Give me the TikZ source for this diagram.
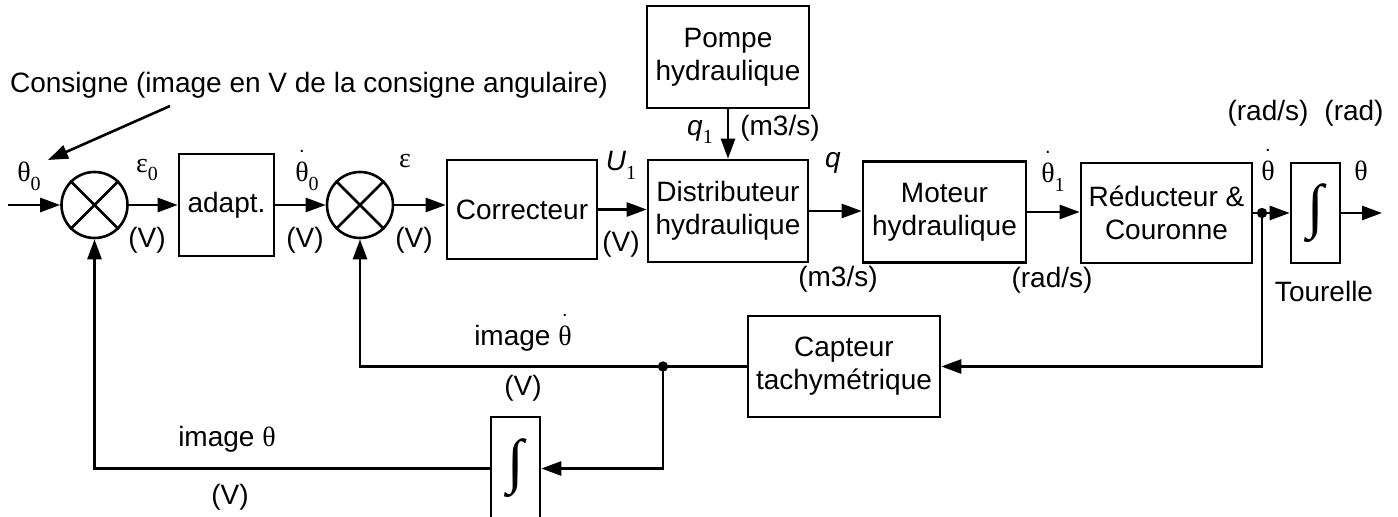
\documentclass[tikz,border=0pt]{standalone}
\usepackage{fontspec}
\setmainfont{Liberation Sans}
\newfontfamily\grk{Liberation Serif}
\usetikzlibrary{arrows.meta}
\newcommand\lowsub[1]{\raisebox{-0.6ex}{\grk\fontsize{10}{10}\selectfont #1}}
\newcommand\dotover[1]{\shortstack{\fontsize{10}{10}\selectfont .\\[2pt]#1}}
\newcommand\integ{{\grk\fontsize{30}{30}\selectfont ∫}}
\tikzset{
  box/.style={draw, line width=1.3pt, align=center, inner sep=0pt},
  sum/.style={draw, circle, minimum size=33pt, inner sep=0pt, line width=1.3pt},
  lbl/.style={inner sep=0pt, align=center},
  conn/.style={line width=1.3pt, -{Triangle[length=10pt,width=7pt]}},
  plain/.style={line width=1.3pt},
}
\begin{document}
\begin{tikzpicture}[x=0.5pt, y=-0.5pt, font=\fontsize{14}{16.5}\selectfont]
\useasboundingbox (0,0) rectangle (1398,517);
\clip (0,0) rectangle (1398,517);
% blocks
\node[sum] (s1) at (94.5,205) {};
\node[sum] (s2) at (360,205) {};
\node[box, minimum width=47.5pt, minimum height=51pt] (adapt) at (226.5,205) {adapt.};
\node[box, minimum width=75pt, minimum height=49.5pt] (corr) at (522,209.5) {Correcteur};
\node[box, minimum width=80pt, minimum height=51pt] (dist) at (728,211) {Distributeur\\hydraulique};
\node[box, minimum width=81pt, minimum height=51pt] (pompe) at (728,57) {Pompe\\hydraulique};
\node[box, minimum width=81.5pt, minimum height=50.5pt] (mot) at (944.5,212) {Moteur\\hydraulique};
\node[box, minimum width=85.5pt, minimum height=50pt] (red) at (1166.5,213) {Réducteur \&\\Couronne};
\node[box, minimum width=24.5pt, minimum height=50pt] (int1) at (1315.5,213) {\integ};
\node[box, minimum width=96pt, minimum height=50.5pt] (cap) at (844,366.5) {Capteur\\tachymétrique};
\node[box, minimum width=24.5pt, minimum height=51.5pt] (int2) at (515.5,468.5) {\integ};
% crosses in summing junctions
\foreach \s in {s1,s2}{
  \draw[plain] (\s.north east) -- (\s.south west);
  \draw[plain] (\s.north west) -- (\s.south east);
}
% coordinates
\coordinate (in) at (8,205);
\coordinate (out) at (1382,213);
\coordinate (j1) at (1262,213);
\coordinate (j2) at (663,366.5);
\coordinate (cs1) at (170,106);
\coordinate (cs2) at (48,160);
% connectors
\draw[conn] (in) -- (s1);
\draw[conn] (s1) -- (adapt);
\draw[conn] (adapt) -- (s2);
\draw[conn] (s2.east) -- (s2.east -| corr.west);
\draw[conn] (corr.east) -- (corr.east -| dist.west);
\draw[conn] (dist.east) -- (dist.east -| mot.west);
\draw[conn] (mot.east) -- (mot.east -| red.west);
\draw[conn] (red.east) -- (int1.west);
\draw[conn] (int1) -- (out);
\draw[conn] (pompe) -- (dist);
\draw[conn] (j1) |- (cap.east);
\draw[conn] (cap.west) -| (s2.south);
\draw[conn] (j2) |- (int2.east);
\draw[conn] (int2.west) -| (s1.south);
\draw[conn] (cs1) -- (cs2);
\fill (j1) circle (2.6pt);
\fill (j2) circle (2.6pt);
% labels
\node[lbl] (consigne) at (309,85) {Consigne (image en V de la consigne angulaire)};
\node[lbl] (lth0) at (29,176) {{\grk θ}\lowsub{0}};
\node[lbl] (leps0) at (147,170) {{\grk ε}\lowsub{0}};
\node[lbl] (lv1) at (147,240) {(V)};
\node[lbl, anchor=base] (ldth0) at (307,182) {\dotover{\grk θ}\lowsub{0}};
\node[lbl] (lv2) at (305,240) {(V)};
\node[lbl] (leps) at (405,161) {{\grk ε}};
\node[lbl] (lv3) at (414,240) {(V)};
\node[lbl] (lu1) at (621,165) {\textit{U}\lowsub{1}};
\node[lbl] (lv4) at (621,244) {(V)};
\node[lbl] (lq1) at (700,132) {\textit{q}\lowsub{1}};
\node[lbl] (lm1) at (780,128) {(m3/s)};
\node[lbl] (lq) at (833,163) {\textit{q}};
\node[lbl] (lm2) at (838,279) {(m3/s)};
\node[lbl, anchor=base] (ldth1) at (1053,183) {\dotover{\grk θ}\lowsub{1}};
\node[lbl] (lrs1) at (1052,280) {(rad/s)};
\node[lbl] (lrs2) at (1268,113) {(rad/s)};
\node[lbl] (lrad) at (1354,113) {(rad)};
\node[lbl, anchor=base] (ldth) at (1268,181) {\dotover{\grk θ}};
\node[lbl, anchor=base] (lth) at (1361,181) {{\grk θ}};
\node[lbl] (ltour) at (1324,291) {Tourelle};
\node[lbl, anchor=base] (limdth) at (523,346) {image \dotover{\grk θ}};
\node[lbl] (lv5) at (523,388) {(V)};
\node[lbl] (limth) at (227,439) {image {\grk θ}};
\node[lbl] (lv6) at (230,497) {(V)};
\end{tikzpicture}
\end{document}
